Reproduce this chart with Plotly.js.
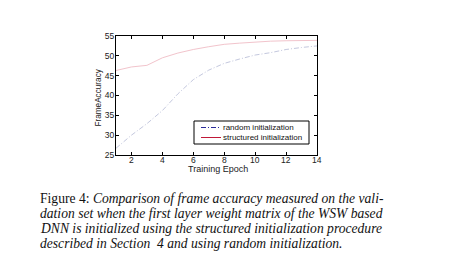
<!DOCTYPE html>
<html><head><meta charset="utf-8">
<script src="https://cdn.plot.ly/plotly-3.0.1.min.js"></script>
<style>html,body{margin:0;padding:0;background:#fff;}#chart{width:456px;height:263px;}</style>
</head><body><div id="chart"></div>
<script>
const epochs = [1,2,3,4,5,6,7,8,9,10,11,12,13,14];
const randomInit = [26.7,30.0,32.9,36.2,40.4,44.0,46.4,48.1,49.2,50.2,50.8,51.6,52.1,52.5];
const structuredInit = [46.3,47.2,47.6,49.5,50.7,51.6,52.3,52.9,53.2,53.5,53.7,53.8,53.9,53.9];
const seriesNames = ["random initialization","structured initialization"];
const seriesColors = ['#c4c8de','#f2c4cc'];
const legendColors = ['#2a2a9a','#c01838'];
const seriesDash = ['5px,2px,1px,2px','solid'];
const xTicks = [2,4,6,8,10,12,14];
const yTicks = [25,30,35,40,45,50,55];
const xTitle = 'Training Epoch';
const yTitle = 'FrameAccuracy';
const captionLines = [
  "Figure 4: <i>Comparison of frame accuracy measured on the vali-</i>",
  "<i>dation set when the first layer weight matrix of the WSW based</i>",
  "<i>DNN is initialized using the structured initialization procedure</i>",
  "<i>described in Section  4 and using random initialization.</i>"
];

// plot area in pixels: x 116..317, y 36..155
const L=116, T=36, W=201, H=119;
const px = v => (v-L)/W;
const py = v => 1-(v-T)/H;
const sans = 'Liberation Sans, Arial, Helvetica';

const traces = [
  {x: epochs, y: randomInit, mode:'lines', showlegend:false,
   line:{color:seriesColors[0], width:1, dash:seriesDash[0]}},
  {x: epochs, y: structuredInit, mode:'lines', showlegend:false,
   line:{color:seriesColors[1], width:1, dash:seriesDash[1]}}
];

const axisCommon = {showline:true, linecolor:'#000', linewidth:1, mirror:'ticks',
  ticks:'inside', ticklen:3, tickcolor:'#000', showgrid:false, zeroline:false,
  tickfont:{family:sans, size:8.5, color:'#222'}};

const annotations = captionLines.map((t,i)=>({
  xref:'paper', yref:'paper', x:px(38), y:py(198 + i*15),
  xanchor:'left', yanchor:'middle', text:t, showarrow:false,
  font:{family:'Liberation Serif, Times New Roman', size:13.6, color:'#111'}
}));
xTicks.forEach(v=>annotations.push({xref:'x', yref:'paper', x:v, y:py(159.5), xanchor:'center', yanchor:'middle',
  text:String(v), showarrow:false, font:{family:sans, size:8.5, color:'#222'}}));
annotations.push({xref:'paper', yref:'paper', x:px(218), y:py(168.5), xanchor:'center', yanchor:'middle',
  text:xTitle, showarrow:false, font:{family:sans, size:9, color:'#222'}});
annotations.push({xref:'paper', yref:'paper', x:px(97.5), y:py(98), xanchor:'center', yanchor:'middle',
  text:yTitle, textangle:-90, showarrow:false, font:{family:sans, size:8.2, color:'#222'}});

const shapes = [
  {type:'rect', xref:'paper', yref:'paper', x0:px(194), x1:px(309), y0:py(121), y1:py(144),
   line:{color:'#000', width:1}, fillcolor:'#fff', layer:'above'}
];
seriesNames.forEach((n,i)=>{
  const yy = py(127.5 + i*10);
  shapes.push({type:'line', xref:'paper', yref:'paper', x0:px(201), x1:px(221), y0:yy, y1:yy,
    line:{color:legendColors[i], width:1, dash:seriesDash[i]}, layer:'above'});
  annotations.push({xref:'paper', yref:'paper', x:px(221), y:yy, xanchor:'left', yanchor:'middle',
    text:n, showarrow:false, font:{family:sans, size:8, color:'#111'}});
});

const layout = {
  width:456, height:263,
  margin:{l:L, r:456-L-W, t:T, b:263-T-H},
  paper_bgcolor:'#fff', plot_bgcolor:'#fff',
  xaxis: Object.assign({}, axisCommon, {range:[1,14], tickvals:xTicks, showticklabels:false}),
  yaxis: Object.assign({}, axisCommon, {range:[25,55], tickvals:yTicks, ticklabelstandoff:-1}),
  shapes: shapes,
  annotations: annotations,
  showlegend:false
};

Plotly.newPlot('chart', traces, layout, {displayModeBar:false, staticPlot:true});
</script></body></html>
